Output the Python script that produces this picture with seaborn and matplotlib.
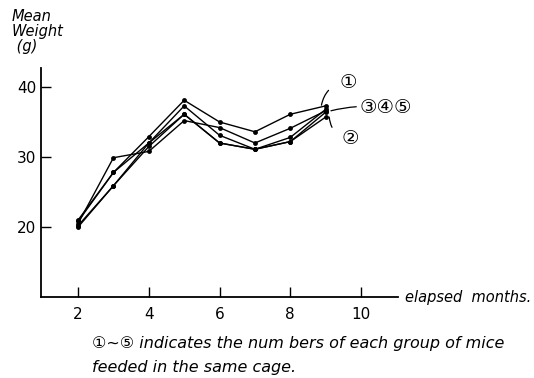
import pandas as pd
import seaborn as sns
import matplotlib.pyplot as plt

# Mean weight of mice per cage group
months = [2, 3, 4, 5, 6, 7, 8, 9]
group_1 = [21.0, 27.8, 32.9, 38.1, 35.0, 33.6, 36.1, 37.3]
group_2 = [20.0, 25.9, 31.5, 36.1, 32.0, 31.1, 32.2, 35.7]
group_3 = [20.5, 29.9, 30.8, 35.2, 34.2, 32.0, 34.1, 36.6]
group_4 = [20.8, 27.8, 32.0, 37.3, 33.1, 31.1, 32.8, 36.8]
group_5 = [20.2, 25.9, 32.0, 36.1, 32.0, 31.1, 32.2, 36.4]
group_names = ['1', '2', '3', '4', '5']
x_ticks = [2, 4, 6, 8, 10]
y_ticks = [20, 30, 40]

rows = []
for name, vals in zip(group_names, [group_1, group_2, group_3, group_4, group_5]):
    for m, w in zip(months, vals):
        rows.append({'month': m, 'weight': w, 'group': name})
df = pd.DataFrame(rows)

sns.set_style('ticks')
plt.rcParams['font.family'] = ['DejaVu Sans', 'Noto Sans CJK JP']
plt.rcParams['text.color'] = 'black'

fig = plt.figure(figsize=(5.34, 3.78), dpi=100)
ax = fig.add_axes([0.077, 0.214, 0.668, 0.606])

sns.lineplot(
    data=df, x='month', y='weight', hue='group',
    palette={g: 'black' for g in group_names},
    marker='o', markersize=3.5, markeredgewidth=0,
    linewidth=1.0, legend=False, ax=ax
)

ax.set_xlim(0.955, 11.04)
ax.set_ylim(10, 42.7)
ax.set_xticks(x_ticks)
ax.set_yticks(y_ticks)
ax.set_xlabel('')
ax.set_ylabel('')
sns.despine(ax=ax)
ax.spines['left'].set_linewidth(1.3)
ax.spines['bottom'].set_linewidth(1.3)
ax.spines['left'].set_color('black')
ax.spines['bottom'].set_color('black')
ax.tick_params(axis='both', direction='in', length=7, width=1, labelsize=11,
               colors='black', labelcolor='black')
ax.tick_params(axis='x', pad=7)

# group labels with leader lines
ax.annotate('\u2460', xy=(8.88, 37.4), xytext=(9.65, 40.6), fontsize=14, ha='center', va='center',
            annotation_clip=False,
            arrowprops=dict(arrowstyle='-', lw=0.9, color='black', connectionstyle='arc3,rad=0.4',
                            shrinkA=7, shrinkB=0))
ax.annotate('\u2462\u2463\u2464', xy=(9.15, 36.6), xytext=(10.7, 37.0), fontsize=14, ha='center',
            va='center', annotation_clip=False,
            arrowprops=dict(arrowstyle='-', lw=0.9, color='black', connectionstyle='arc3,rad=0.1',
                            shrinkA=28, shrinkB=0))
ax.annotate('\u2461', xy=(9.1, 35.7), xytext=(9.7, 32.6), fontsize=14, ha='center', va='center',
            annotation_clip=False,
            arrowprops=dict(arrowstyle='-', lw=0.9, color='black', connectionstyle='arc3,rad=-0.4',
                            shrinkA=7, shrinkB=0))

fig.text(0.022, 0.975, 'Mean\nWeight\n (g)', fontsize=10.5, style='italic', va='top', ha='left',
         linespacing=1.0)
fig.text(0.758, 0.214, 'elapsed  months.', fontsize=10.5, style='italic', va='center', ha='left')
fig.text(0.172, 0.09, '\u2460~\u2464 indicates the num bers of each group of mice',
         fontsize=11.5, style='italic', va='center', ha='left')
fig.text(0.172, 0.028, 'feeded in the same cage.', fontsize=11.5, style='italic', va='center', ha='left')

fig.savefig('out.png', dpi=100)
